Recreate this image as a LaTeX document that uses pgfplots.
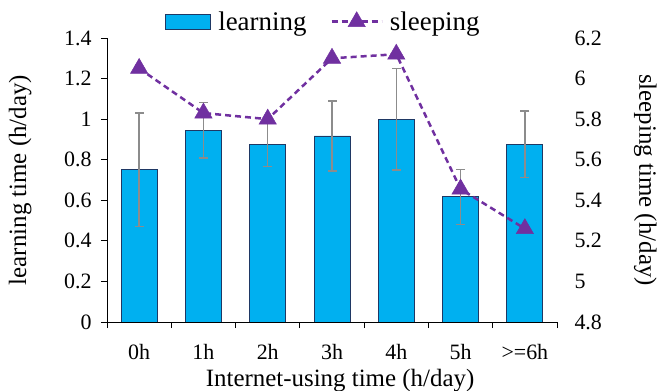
\documentclass[border=0pt]{standalone}
\usepackage{pgfplots}
\pgfplotsset{compat=1.18}
\usepackage{pgfplotstable}
\usepackage{fontspec}
\setmainfont{Liberation Serif}
\definecolor{barfill}{HTML}{00B0F0}
\definecolor{baredge}{HTML}{1F3864}
\definecolor{sleepc}{HTML}{7030A0}
\definecolor{errc}{HTML}{8C8C8C}
\pgfplotstableread{
x y err
0 0.750 0.280
1 0.945 0.137
2 0.877 0.110
3 0.917 0.172
4 1.000 0.250
5 0.617 0.135
6 0.877 0.163
}\learn
\pgfplotstableread{
x y
0 6.050
1 5.830
2 5.800
3 6.100
4 6.120
5 5.455
6 5.260
}\sleep
\begin{document}
\begin{tikzpicture}
\useasboundingbox (0,0) rectangle (660bp,391bp);
\pgfplotsset{
  every axis/.append style={
    scale only axis, width=450bp, height=284bp,
    at={(107bp,69bp)}, anchor=south west,
    xmin=-0.5, xmax=6.5,
    /pgf/number format/assume math mode=true,
    ticklabel style={font=\fontsize{22}{26}\selectfont},
    label style={font=\fontsize{25}{29}\selectfont},
  }
}
\begin{axis}[
  axis x line*=bottom, axis y line*=left,
  axis line style={-, line width=0.9bp},
  ymin=0, ymax=1.4, ytick={0,0.2,...,1.4},
  xtick={-0.5,0.5,...,6.5},
  x tick label as interval,
  xticklabels={0h,1h,2h,3h,4h,5h,{>=6h}},
  tick align=outside, major tick length=6bp,
  tick style={line width=0.9bp, black},
  yticklabel style={xshift=-6bp},
  xticklabel style={yshift=-13bp},
  xlabel={Internet-using time (h/day)},
  ylabel={learning time (h/day)},
  xlabel style={at={(axis description cs:0.518,-0.205)}, anchor=center},
  ylabel style={at={(axis description cs:-0.193,0.5)}, anchor=center},
]
\addplot[ybar, bar width=36bp, fill=barfill, draw=baredge, line width=0.9bp]
  table[x=x, y=y] {\learn};
% error bar stems
\addplot[draw=none, mark=none,
  error bars/.cd, y dir=both, y explicit, error mark=none,
  error bar style={draw=errc, line width=1.3bp, solid}]
  table[x=x, y=y, y error=err] {\learn};
% error bar caps
\addplot[only marks, mark=-, mark size=4.5bp, mark options={draw=errc, line width=1.3bp}]
  table[x=x, y expr=\thisrow{y}+\thisrow{err}] {\learn};
\addplot[only marks, mark=-, mark size=4.5bp, mark options={draw=errc, line width=1.3bp}]
  table[x=x, y expr=\thisrow{y}-\thisrow{err}] {\learn};
\end{axis}
\begin{axis}[
  hide x axis,
  axis y line*=right,
  y axis line style={draw=none},
  ytick style={draw=none},
  ymin=4.8, ymax=6.2, ytick={4.8,5,...,6.2},
  yticklabel style={anchor=west, xshift=14bp},
  ylabel={sleeping time (h/day)},
  ylabel style={at={(axis description cs:1.196,0.5)}, anchor=center, rotate=180},
  legend style={at={(0.481,1.0)}, anchor=south, yshift=2bp, draw=none, fill=none,
    font=\fontsize{27}{31}\selectfont, column sep=5bp, /tikz/every even column/.append style={column sep=22bp}},
  legend columns=2,
]
\addlegendimage{legend image code/.code={\draw[fill=barfill, draw=baredge, line width=1bp] (0bp,-7.5bp) rectangle (45bp,7.5bp);}}
\addlegendentry{learning}
\addplot[sleepc, line width=2.5bp, dash pattern=on 6bp off 4bp, mark=triangle*, mark size=10bp,
  mark options={solid, fill=sleepc, draw=sleepc, line width=0.5bp},
  legend image code/.code={\draw[mark repeat=2, mark phase=2] plot coordinates {(0bp,0bp) (25bp,0bp) (50bp,0bp)};}]
  table[x=x, y=y] {\sleep};
\addlegendentry{sleeping}
\end{axis}
\end{tikzpicture}
\end{document}
